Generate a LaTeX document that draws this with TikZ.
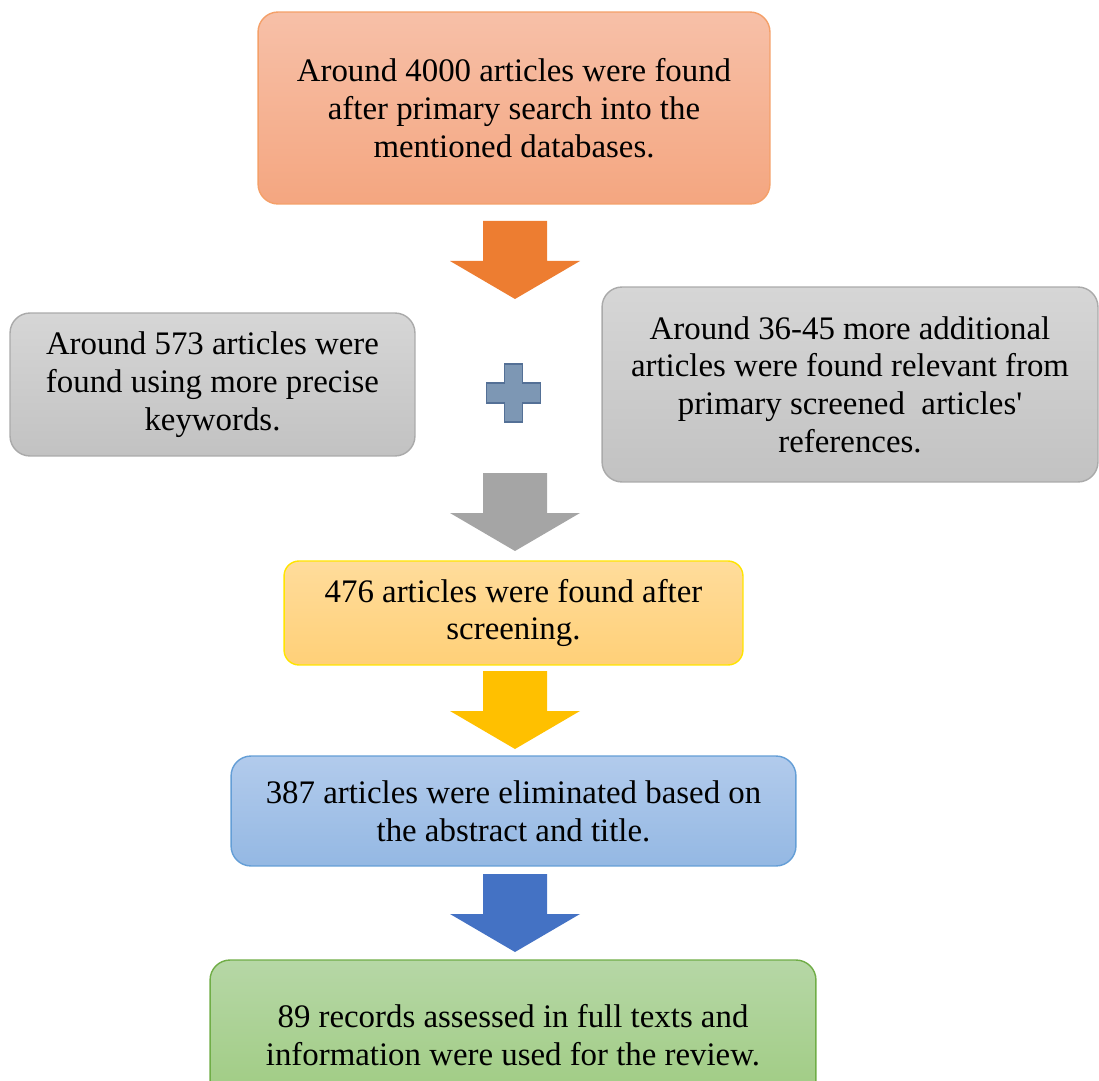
\documentclass[tikz,border=0pt]{standalone}
\usepackage{fontspec}
\setmainfont{LiberationSerif-Regular.ttf}
\newfontfamily\boxfont{LiberationSerif-Regular.ttf}
\usepackage{tikz}
\usetikzlibrary{positioning}

\definecolor{orline}{RGB}{244,160,105}
\definecolor{ortop}{RGB}{247,192,168}
\definecolor{orbot}{RGB}{244,166,128}
\definecolor{orarrow}{RGB}{237,125,49}
\definecolor{grline}{RGB}{170,170,170}
\definecolor{grtop}{RGB}{214,214,214}
\definecolor{grbot}{RGB}{194,194,194}
\definecolor{grarrow}{RGB}{165,165,165}
\definecolor{yeline}{RGB}{255,228,0}
\definecolor{yetop}{RGB}{255,220,155}
\definecolor{yebot}{RGB}{255,208,120}
\definecolor{yearrow}{RGB}{255,192,0}
\definecolor{blline}{RGB}{100,158,214}
\definecolor{bltop}{RGB}{178,203,236}
\definecolor{blbot}{RGB}{148,184,227}
\definecolor{blarrow}{RGB}{68,114,196}
\definecolor{gnline}{RGB}{112,173,71}
\definecolor{gntop}{RGB}{182,215,166}
\definecolor{gnbot}{RGB}{158,203,128}
\definecolor{plfill}{RGB}{125,151,180}
\definecolor{plline}{RGB}{84,112,150}

\begin{document}
\begin{tikzpicture}[x=0.02cm,y=-0.02cm,
  box/.style={draw,line width=0.8pt,rounded corners=0.4cm,align=center,inner sep=0pt,
    font=\boxfont\fontsize{18.7}{21.5}\selectfont},
  orbox/.style={box,draw=orline,top color=ortop,bottom color=orbot},
  grbox/.style={box,draw=grline,top color=grtop,bottom color=grbot},
  yebox/.style={box,draw=yeline,top color=yetop,bottom color=yebot,rounded corners=0.3cm},
  blbox/.style={box,draw=blline,top color=bltop,bottom color=blbot},
  gnbox/.style={box,draw=gnline,top color=gntop,bottom color=gnbot},
  downarrow/.pic={\path[pic actions] (-32,0) -- (32,0) -- (32,40) -- (65,40) -- (0,78)
    -- (-65,40) -- (-32,40) -- cycle;},
  plussign/.pic={\path[pic actions] (-9,-29) -- (9,-29) -- (9,-10) -- (27,-10) -- (27,10)
    -- (9,10) -- (9,29) -- (-9,29) -- (-9,10) -- (-27,10) -- (-27,-10) -- (-9,-10) -- cycle;}]

  \useasboundingbox (0,0) rectangle (1099,1081);
  \clip (0,0) rectangle (1099,1081);

  % boxes
  \node[orbox,minimum width=10.24cm,minimum height=3.84cm] (search) at (514,108)
    {Around 4000 articles were found\\after primary search into the\\mentioned databases.};
  \node[grbox,minimum width=8.1cm,minimum height=2.86cm] (keywords) at (212.5,384.5)
    {Around 573 articles were\\found using more precise\\keywords.};
  \node[grbox,minimum width=9.92cm,minimum height=3.9cm] (refs) at (850,384.5)
    {Around 36-45 more additional\\articles were found relevant from\\primary screened\ \ articles\textquotesingle\\references.};
  \node[yebox,minimum width=9.18cm,minimum height=2.08cm] (screen) at (513.5,613)
    {476 articles were found after\\screening.};
  \node[blbox,minimum width=11.3cm,minimum height=2.2cm] (elim) at (513.5,811)
    {387 articles were eliminated based on\\the abstract and title.};
  \node[gnbox,minimum width=12.12cm,minimum height=3cm] (review) at (513,1035)
    {89 records assessed in full texts and\\information were used for the review.};

  % arrows and plus
  \pic[fill=orarrow] (arrA) at (515,221) {downarrow};
  \pic[fill=plfill,draw=plline,line width=0.6pt] (plus) at (513.5,393) {plussign};
  \pic[fill=grarrow] (arrB) at (515,473) {downarrow};
  \pic[fill=yearrow] (arrC) at (515,671) {downarrow};
  \pic[fill=blarrow] (arrD) at (515,874) {downarrow};
\end{tikzpicture}
\end{document}
